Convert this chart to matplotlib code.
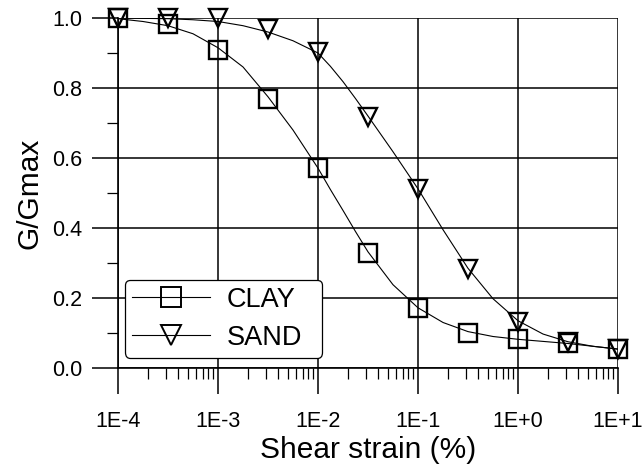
import matplotlib
matplotlib.use("Agg")
import matplotlib.pyplot as plt
from matplotlib.ticker import FixedLocator, NullFormatter
from matplotlib.lines import Line2D

plt.rcParams['font.family'] = ['Liberation Sans', 'DejaVu Sans']

# Measured points
strain = [1e-4, 3.16e-4, 1e-3, 3.16e-3, 1e-2, 3.16e-2, 1e-1, 3.16e-1, 1e0, 3.16e0, 1e1]
clay = [1.0, 0.983, 0.91, 0.77, 0.571, 0.328, 0.172, 0.10, 0.082, 0.071, 0.054]
sand = [1.0, 1.0, 1.0, 0.969, 0.903, 0.717, 0.512, 0.283, 0.132, 0.073, 0.054]

# Fitted curves
curve_x = [1e-4, 1.78e-4, 3.16e-4, 5.62e-4, 1e-3, 1.78e-3, 3.16e-3, 5.62e-3, 1e-2,
           1.33e-2, 1.78e-2, 2.37e-2, 3.16e-2, 5.62e-2, 1e-1, 1.78e-1, 3.16e-1,
           5.62e-1, 1e0, 1.78e0, 3.16e0, 5.62e0, 1e1]
clay_curve = [0.998, 0.99, 0.978, 0.955, 0.915, 0.86, 0.775, 0.68, 0.571,
              0.51, 0.45, 0.39, 0.332, 0.238, 0.172, 0.13, 0.104,
              0.09, 0.082, 0.076, 0.07, 0.062, 0.054]
sand_curve = [1.0, 0.999, 0.998, 0.995, 0.99, 0.978, 0.96, 0.935, 0.9,
              0.862, 0.818, 0.77, 0.72, 0.618, 0.512, 0.395, 0.285,
              0.198, 0.135, 0.097, 0.075, 0.062, 0.054]

xticks = [1e-4, 1e-3, 1e-2, 1e-1, 1e0, 1e1]
xticklabels = ['1E-4', '1E-3', '1E-2', '1E-1', '1E+0', '1E+1']
yticks = [0.0, 0.2, 0.4, 0.6, 0.8, 1.0]
yticklabels = ['0.0', '0.2', '0.4', '0.6', '0.8', '1.0']

fig = plt.figure(figsize=(6.44, 4.68), dpi=100)
ax = fig.add_axes([118/644, 1-368/468, 500/644, 350/468])
ax.set_xscale('log')
ax.set_xlim(1e-4, 1e1)
ax.set_ylim(0, 1.0)

for s in ['top', 'right']:
    ax.spines[s].set_visible(False)
ax.spines['left'].set_linewidth(1.2)
ax.spines['bottom'].set_linewidth(1.2)

ax.grid(True, which='major', color='black', linewidth=1.1, zorder=0)

ax.plot(curve_x, clay_curve, color='black', linewidth=0.8, zorder=2)
ax.plot(curve_x, sand_curve, color='black', linewidth=0.8, zorder=2)
ax.plot(strain, clay, linestyle='none', marker='s', markersize=12.5,
        markerfacecolor='none', markeredgecolor='black', markeredgewidth=1.7,
        clip_on=False, zorder=3)
ax.plot(strain, sand, linestyle='none', marker='v', markersize=13.5,
        markerfacecolor='none', markeredgecolor='black', markeredgewidth=1.7,
        clip_on=False, zorder=3)

ax.set_xticks(xticks)
ax.set_xticklabels(xticklabels)
minor = []
for d in xticks[:-1]:
    for k in range(2, 10):
        minor.append(d * k)
ax.xaxis.set_minor_locator(FixedLocator(minor))
ax.xaxis.set_minor_formatter(NullFormatter())
ax.set_yticks(yticks)
ax.set_yticklabels(yticklabels)
ax.yaxis.set_minor_locator(FixedLocator([0.1, 0.3, 0.5, 0.7, 0.9]))

ax.tick_params(which='major', direction='out', length=19, width=1.1,
               labelsize=15.5)
ax.tick_params(axis='x', which='major', pad=12)
ax.tick_params(axis='y', which='major', pad=7)
ax.tick_params(which='minor', direction='out', length=8, width=0.9)

ax.set_xlabel('Shear strain (%)', fontsize=21.5, labelpad=3)
ax.set_ylabel('G/Gmax', fontsize=21.5, labelpad=6)

# Legend
h1 = Line2D([], [], color='black', linewidth=0.8, marker='s', markersize=14,
            markerfacecolor='none', markeredgecolor='black', markeredgewidth=1.4)
h2 = Line2D([], [], color='black', linewidth=0.8, marker='v', markersize=15,
            markerfacecolor='none', markeredgecolor='black', markeredgewidth=1.4)
leg = ax.legend([h1, h2], ['CLAY', 'SAND'], loc='upper left',
                bbox_to_anchor=(125/644, 1-357/468, 197/644, 77/468),
                bbox_transform=fig.transFigure, mode='expand',
                fontsize=19.5, frameon=True, fancybox=True, handlelength=2.9,
                handletextpad=0.6, borderpad=0.25, labelspacing=0.45,
                borderaxespad=0, framealpha=1, edgecolor='black')
leg.get_frame().set_linewidth(0.9)
leg.set_zorder(5)

fig.savefig('out.png', dpi=100)
